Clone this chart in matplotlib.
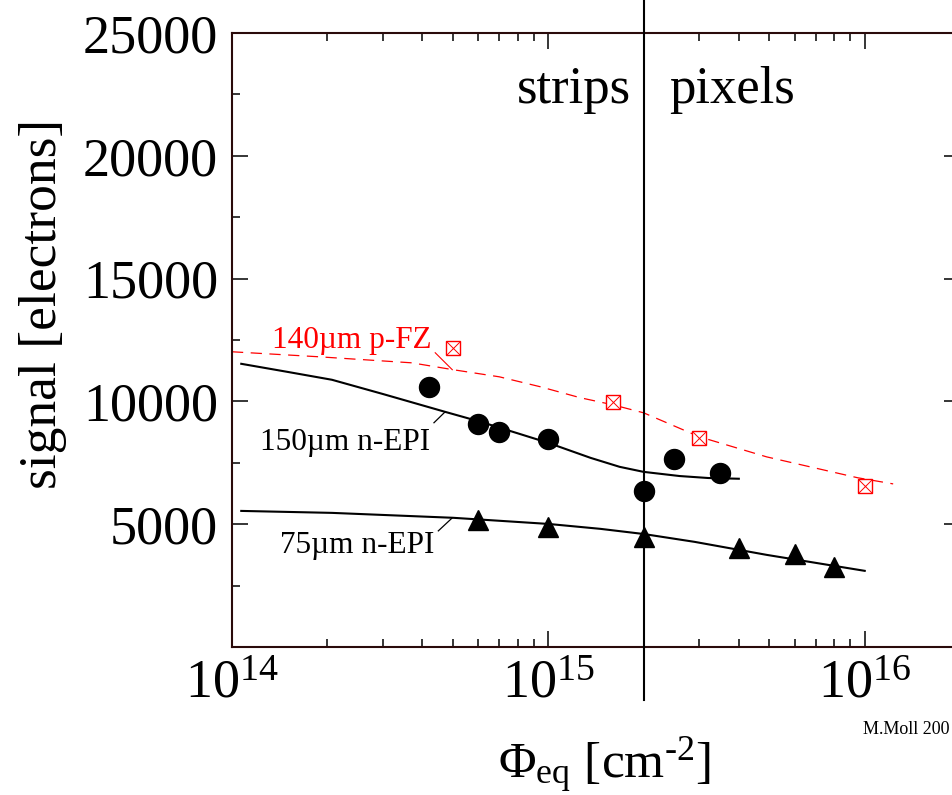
import matplotlib

matplotlib.use("Agg")
import matplotlib.pyplot as plt
from matplotlib.ticker import FixedLocator, LogLocator, LogFormatterMathtext, NullFormatter

plt.rcParams["font.family"] = ["Liberation Serif", "DejaVu Serif"]
plt.rcParams["mathtext.fontset"] = "custom"
plt.rcParams["mathtext.rm"] = "Liberation Serif"
plt.rcParams["mathtext.it"] = "Liberation Serif:italic"

# measured points
EPI150_X = [4.2e14, 6e14, 7e14, 1e15, 2e15, 2.5e15, 3.5e15]
EPI150_Y = [10600, 9090, 8760, 8480, 6360, 7650, 7100]

EPI75_X = [6e14, 1e15, 2e15, 4e15, 6e15, 8e15]
EPI75_Y = [5180, 4890, 4480, 4030, 3790, 3260]

FZ140_X = [5e14, 1.6e15, 3e15, 1e16]
FZ140_Y = [12180, 9980, 8520, 6560]

# simulation curves
EPI150_CURVE_X = [1.07e14, 1.5e14, 2.07e14, 3e14, 4.7e14, 6.1e14, 8e14, 1e15,
                  1.36e15, 1.68e15, 2e15, 2.6e15, 3.2e15, 4e15]
EPI150_CURVE_Y = [11530, 11200, 10880, 10300, 9580, 9170, 8700, 8310,
                  7700, 7335, 7130, 6960, 6880, 6850]

EPI75_CURVE_X = [1.07e14, 2.07e14, 5e14, 1e15, 1.46e15, 2e15, 2.9e15, 4.9e15, 1e16]
EPI75_CURVE_Y = [5540, 5460, 5260, 5010, 4810, 4600, 4280, 3750, 3100]

FZ140_CURVE_X = [1e14, 1.86e14, 3.7e14, 5e14, 7e14, 9.4e14, 1.26e15, 1.6e15,
                 2e15, 3e15, 4.9e15, 9.5e15, 1.23e16]
FZ140_CURVE_Y = [12020, 11820, 11570, 11290, 11000, 10600, 10150, 9860,
                 9535, 8560, 7740, 6890, 6640]

STRIP_PIXEL_BOUNDARY = 2e15

FRAME = "#2a0a0a"
RED = "#ff0000"

fig = plt.figure(figsize=(9.53, 7.95), dpi=100)
ax = fig.add_axes([0.2434, 0.1862, 0.7639, 0.7723])

ax.set_xscale("log")
ax.set_xlim(1e14, 2e16)
ax.set_ylim(0, 25000)

# curves
ax.plot(FZ140_CURVE_X, FZ140_CURVE_Y, color=RED, lw=0.9, linestyle=(0, (9, 6)))
ax.plot(EPI150_CURVE_X, EPI150_CURVE_Y, color="black", lw=1.5)
ax.plot(EPI75_CURVE_X, EPI75_CURVE_Y, color="black", lw=1.5)

# data points
ax.plot(EPI150_X, EPI150_Y, "o", color="black", ms=14.4, zorder=5)
ax.plot(EPI75_X, EPI75_Y, "^", color="black", ms=15, zorder=5)
ax.plot(FZ140_X, FZ140_Y, "s", mfc="white", mec=RED, mew=1.0, ms=9.6, zorder=5)
ax.plot(FZ140_X, FZ140_Y, "x", color=RED, mew=0.7, ms=9.6, zorder=6)

# strips / pixels boundary line, runs past the frame
ax.plot([STRIP_PIXEL_BOUNDARY, STRIP_PIXEL_BOUNDARY], [-0.086, 1.06],
        transform=ax.get_xaxis_transform(), color="black", lw=1.5,
        clip_on=False, zorder=4)
ax.text(1.82e15, 0.886, "strips", transform=ax.get_xaxis_transform(),
        ha="right", va="baseline", fontsize=38)
ax.text(2.4e15, 0.886, "pixels", transform=ax.get_xaxis_transform(),
        ha="left", va="baseline", fontsize=38)

# curve labels with leader lines
ax.text(1.34e14, 12180, "140µm p-FZ", color=RED, fontsize=22.5, va="baseline")
ax.plot([4.39e14, 4.97e14], [11980, 11290], color=RED, lw=0.8)
ax.text(1.23e14, 8030, "150µm n-EPI", color="black", fontsize=22.5, va="baseline")
ax.plot([4.35e14, 4.72e14], [9130, 9576], color="black", lw=0.9)
ax.text(1.42e14, 3830, "75µm n-EPI", color="black", fontsize=22.5, va="baseline")
ax.plot([4.49e14, 4.97e14], [4727, 5257], color="black", lw=0.9)

# axes frame and ticks
for spine in ax.spines.values():
    spine.set_color(FRAME)
    spine.set_linewidth(1.5)

ax.xaxis.set_major_locator(LogLocator(base=10, numticks=10))
ax.xaxis.set_major_formatter(LogFormatterMathtext())
ax.xaxis.set_minor_locator(LogLocator(base=10, subs=range(2, 10), numticks=20))
ax.xaxis.set_minor_formatter(NullFormatter())
ax.yaxis.set_major_locator(FixedLocator([5000, 10000, 15000, 20000, 25000]))
ax.yaxis.set_minor_locator(FixedLocator([2500, 7500, 12500, 17500, 22500]))

ax.tick_params(which="both", direction="in", top=True, right=True,
               color="black", width=1.1)
ax.tick_params(which="major", length=11.5, labelsize=39)
ax.tick_params(which="minor", length=5.5)
ax.tick_params(axis="x", which="major", pad=9)
ax.tick_params(axis="y", which="major", pad=10)

# axis titles
fig.text(43 / 953, 1 - 304 / 795, "signal [electrons]", rotation=90,
         ha="center", va="center", fontsize=38.5)
fig.text(604 / 953, 1 - 766 / 795,
         "Φ$_{\\mathdefault{eq}}$ [cm$^{\\mathdefault{\u2010 2}}$]",
         ha="center", va="center", fontsize=37)
fig.text(863 / 953, 1 - 730 / 795, "M.Moll 200", ha="left", va="center",
         fontsize=13)

fig.savefig("out.png", dpi=100)
